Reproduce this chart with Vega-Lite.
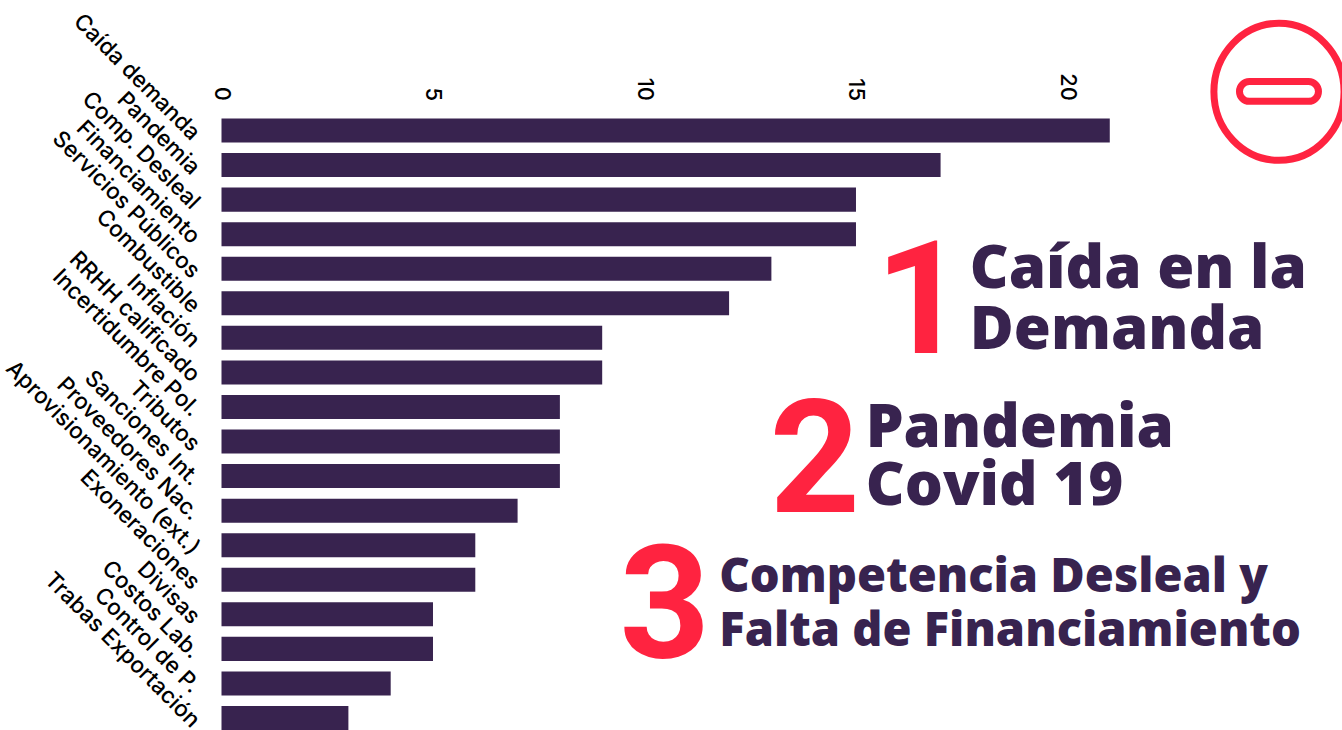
{
"$schema":"https://vega.github.io/schema/vega-lite/v6.json",
"autosize":"none",
"padding":{"left":221.5,"top":118.5,"right":0,"bottom":0},
"width":1120.5,"height":611.5,
"background":"white",
"config":{"view":{"stroke":null}},
"datasets":{
"bars":[
{"causa":"Caída demanda","valor":21},{"causa":"Pandemia","valor":17},{"causa":"Comp. Desleal","valor":15},{"causa":"Financiamiento","valor":15},{"causa":"Servicios Públicos","valor":13},{"causa":"Combustible","valor":12},{"causa":"Inflación","valor":9},{"causa":"RRHH calificado","valor":9},{"causa":"Incertidumbre Pol.","valor":8},{"causa":"Tributos","valor":8},{"causa":"Sanciones Int.","valor":8},{"causa":"Proveedores Nac.","valor":7},{"causa":"Aprovisionamiento (ext.)","valor":6},{"causa":"Exoneraciones","valor":6},{"causa":"Divisas","valor":5},{"causa":"Costos Lab.","valor":5},{"causa":"Control de P.","valor":4},{"causa":"Trabas Exportación","valor":3}],
"grande":[
{"t":"Caída en la","x":17.69,"f":4.05},{"t":"Demanda","x":17.69,"f":5.8},
{"t":"Pandemia","x":15.23,"f":8.65},{"t":"Covid 19","x":15.23,"f":10.33}],
"media":[
{"t":"Competencia Desleal y","x":11.77,"f":12.95},{"t":"Falta de Financiamiento","x":11.77,"f":14.5}],
"nums":[
{"t":"1","x":17.6,"f":5.08},{"t":"2","x":15.1,"f":9.68},{"t":"3","x":11.55,"f":13.88}],
"aro":[{"x":25.0,"f":-1.12}],
"barra":[{"x":25.0,"f":-1.13}]
},
"resolve":{"scale":{"y":"independent"}},
"layer":[
{"data":{"name":"bars"},"mark":{"type":"bar","color":"#38234f"},
"encoding":{
"x":{"field":"valor","type":"quantitative","scale":{"domain":[0,26.49],"nice":false},
"axis":{"orient":"top","values":[0,5,10,15,20],"title":null,"grid":false,"domain":false,"ticks":false,"labelAngle":90,"labelAlign":"right","labelBaseline":"middle","labelPadding":18,"labelFont":"Inter","labelFontSize":22,"labelFontWeight":500,"labelColor":"#000"}},
"y":{"field":"causa","type":"nominal","sort":null,"scale":{"paddingInner":0.305,"paddingOuter":0},
"axis":{"title":null,"domain":false,"ticks":false,"labelAngle":45,"labelAlign":"right","labelBaseline":"middle","labelPadding":26,"labelOffset":6,"labelFont":"Inter","labelFontSize":22.5,"labelFontWeight":500,"labelColor":"#000","labelLimit":400,"labelOverlap":false}}}},
{"data":{"name":"grande"},"mark":{"type":"text","align":"left","baseline":"middle","font":"Open Sans","fontWeight":800,"fontSize":60,"color":"#38234f"},
"encoding":{"x":{"field":"x","type":"quantitative"},"y":{"field":"f","type":"quantitative","axis":null,"scale":{"domain":[-0.347,17.35],"reverse":true,"nice":false,"zero":false}},"text":{"field":"t"}}},
{"data":{"name":"media"},"mark":{"type":"text","align":"left","baseline":"middle","font":"Open Sans","fontWeight":800,"fontSize":47,"color":"#38234f"},
"encoding":{"x":{"field":"x","type":"quantitative"},"y":{"field":"f","type":"quantitative","axis":null,"scale":{"domain":[-0.347,17.35],"reverse":true,"nice":false,"zero":false}},"text":{"field":"t"}}},
{"data":{"name":"nums"},"mark":{"type":"text","align":"right","baseline":"middle","font":"Roboto","fontWeight":"bold","fontSize":158,"color":"#ff2340"},
"encoding":{"x":{"field":"x","type":"quantitative"},"y":{"field":"f","type":"quantitative","axis":null,"scale":{"domain":[-0.347,17.35],"reverse":true,"nice":false,"zero":false}},"text":{"field":"t"}}},
{"data":{"name":"aro"},"mark":{"type":"point","filled":false,"stroke":"#ff2340","strokeWidth":7,"opacity":1,"size":18769,"shape":"M-0.95,0A0.95,1,0,1,1,0.95,0A0.95,1,0,1,1,-0.95,0Z","clip":false},
"encoding":{"x":{"field":"x","type":"quantitative"},"y":{"field":"f","type":"quantitative","axis":null,"scale":{"domain":[-0.347,17.35],"reverse":true,"nice":false,"zero":false}}}},
{"data":{"name":"barra"},"mark":{"type":"point","filled":false,"stroke":"#ff2340","strokeWidth":7,"opacity":1,"size":6241,"shape":"M-0.75,-0.25H0.75A0.25,0.25,0,0,1,0.75,0.25H-0.75A0.25,0.25,0,0,1,-0.75,-0.25Z"},
"encoding":{"x":{"field":"x","type":"quantitative"},"y":{"field":"f","type":"quantitative","axis":null,"scale":{"domain":[-0.347,17.35],"reverse":true,"nice":false,"zero":false}}}}
]
}
